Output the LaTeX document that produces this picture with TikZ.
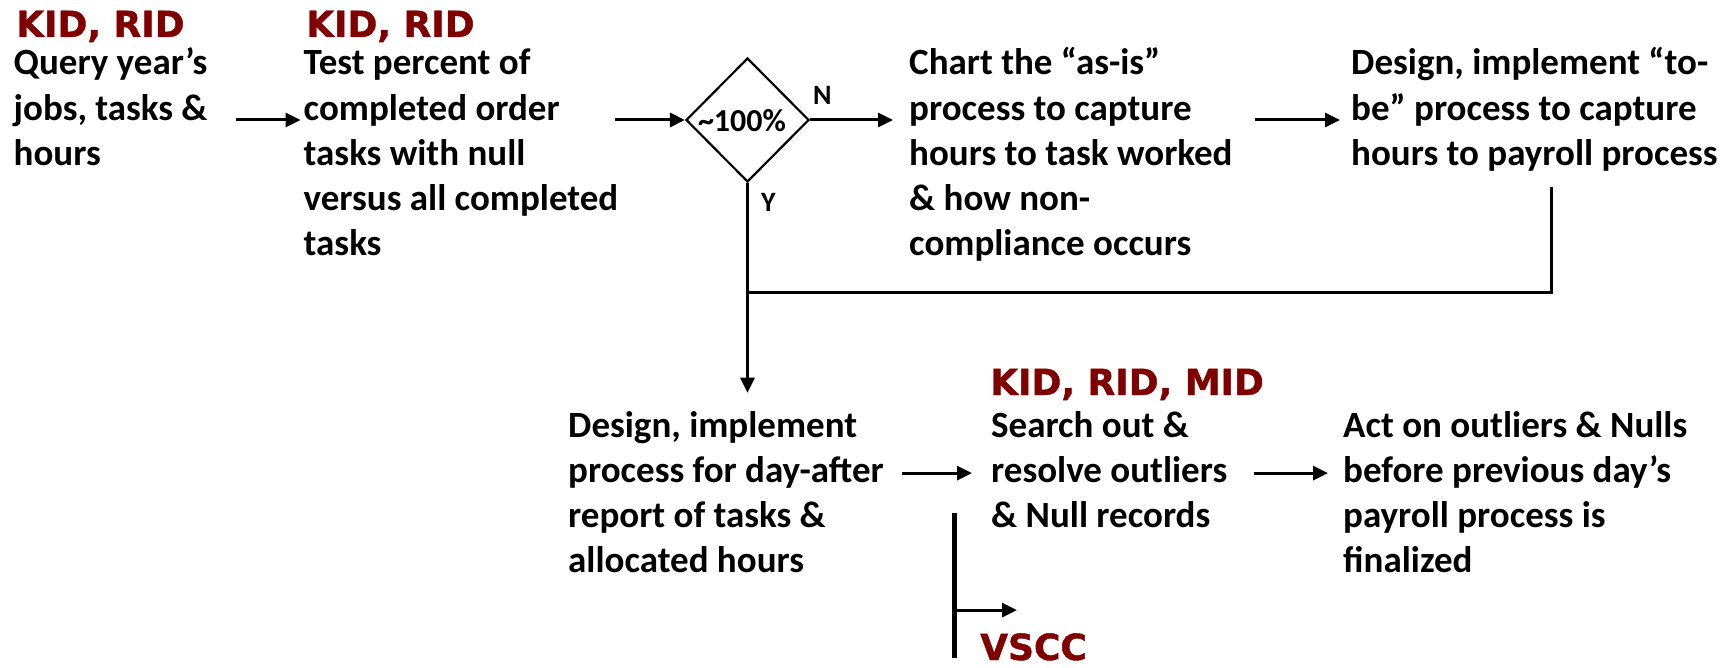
\documentclass[tikz,border=0pt]{standalone}
\usepackage{fontspec}
\usetikzlibrary{arrows.meta,shapes.geometric,calc}
\newfontfamily\calib{Carlito}
\newfontfamily\djv[FakeBold=1.2]{DejaVu Sans}
\definecolor{idred}{RGB}{128,0,0}
% multi-line block whose baseline is the first line
\newcommand{\lines}[1]{\begin{tabular}[t]{@{}l@{}}#1\end{tabular}}
\tikzset{
  body/.style={inner sep=0pt, anchor=base west,
    font=\calib\bfseries\fontsize{37}{45.1}\selectfont},
  tag/.style={inner sep=0pt, anchor=base west, text=idred,
    font=\djv\bfseries\fontsize{36}{43}\selectfont},
  pct/.style={inner sep=0pt, font=\calib\bfseries\fontsize{32}{38}\selectfont},
  yn/.style={inner sep=0pt, anchor=base west,
    font=\calib\bfseries\fontsize{28}{34}\selectfont},
  decision/.style={draw, shape=diamond, minimum width=123pt,
    minimum height=124pt, inner sep=0pt, line width=2.2pt},
  lnk/.style={line width=3pt},
  arr/.style={lnk, -{Triangle[length=15pt,width=14pt]}},
}
\begin{document}
\begin{tikzpicture}[x=1pt,y=-1pt]
\useasboundingbox (0,0) rectangle (1729,668);

% top row
\node[tag]  (tA) at (16,37)    {KID, RID};
\node[body] (A)  at (13.5,75)  {\lines{Query year’s\\jobs, tasks \&\\hours}};
\node[tag]  (tB) at (306,37)   {KID, RID};
\node[body] (B)  at (303.5,75) {\lines{Test percent of\\completed order\\tasks with null\\versus all completed\\tasks}};
\node[decision] (D) at (747.5,120) {};
\node[pct]  (P)  at (742,120.5) {\textasciitilde100\%};
\node[yn]   (N)  at (813,105)  {N};
\node[yn]   (Y)  at (761,212)  {Y};
\node[body] (C)  at (909,75)   {\lines{Chart the “as-is”\\process to capture\\hours to task worked\\\& how non-\\compliance occurs}};
\node[body] (E)  at (1351,75)  {\lines{Design, implement “to-\\be” process to capture\\hours to payroll process}};

% bottom row
\node[body] (F)  at (568,437)  {\lines{Design, implement\\process for day-after\\report of tasks \&\\allocated hours}};
\node[tag]  (tG) at (990,395)  {KID, RID, MID};
\node[body] (G)  at (991,437)  {\lines{Search out \&\\resolve outliers\\\& Null records}};
\node[body] (H)  at (1343,437) {\lines{Act on outliers \& Nulls\\before previous day’s\\payroll process is\\finalized}};
\node[tag]  (tV) at (980,660)  {VSCC};

% top row arrows
\draw[arr] ($(A.east|-D.center)+(28,0)$) -- ($(B.west|-D.center)+(-3,0)$);
\draw[arr] ($(B.east|-D.center)+(-3,0)$) -- (D.west);
\draw[arr] (D.east) -- ($(C.west|-D.east)+(-16,0)$);
\draw[arr] ($(C.east|-D.east)+(22,0)$) -- ($(E.west|-D.east)+(-11,0)$);

% return path from the to-be process and the Y branch
\coordinate (eBot) at ($(E.south west)+(200,8.5)$);
\coordinate (join) at ($(D.south)+(0,109)$);
\draw[lnk] (eBot) |- (join);
\draw[arr] (D.south) -- ($(D.south|-F.north)+(0,-12.5)$);

% bottom row arrows
\draw[arr] ($(F.east|-G.west)+(18,0)$) -- ($(G.west)+(-19,0)$);
\draw[arr] ($(G.east)+(26,0)$) -- ($(H.west|-G.east)+(-15,0)$);

% VSCC branch
\coordinate (vTop) at ($(tV.north west)+(-26,-120)$);
\coordinate (vBot) at ($(tV.north west)+(-26,25)$);
\coordinate (vMid) at ($(tV.north west)+(-26,-23)$);
\draw[line width=5pt] (vTop) -- (vBot);
\draw[arr] (vMid) -- ($(tV.north west)+(37,-23)$);
\end{tikzpicture}
\end{document}
